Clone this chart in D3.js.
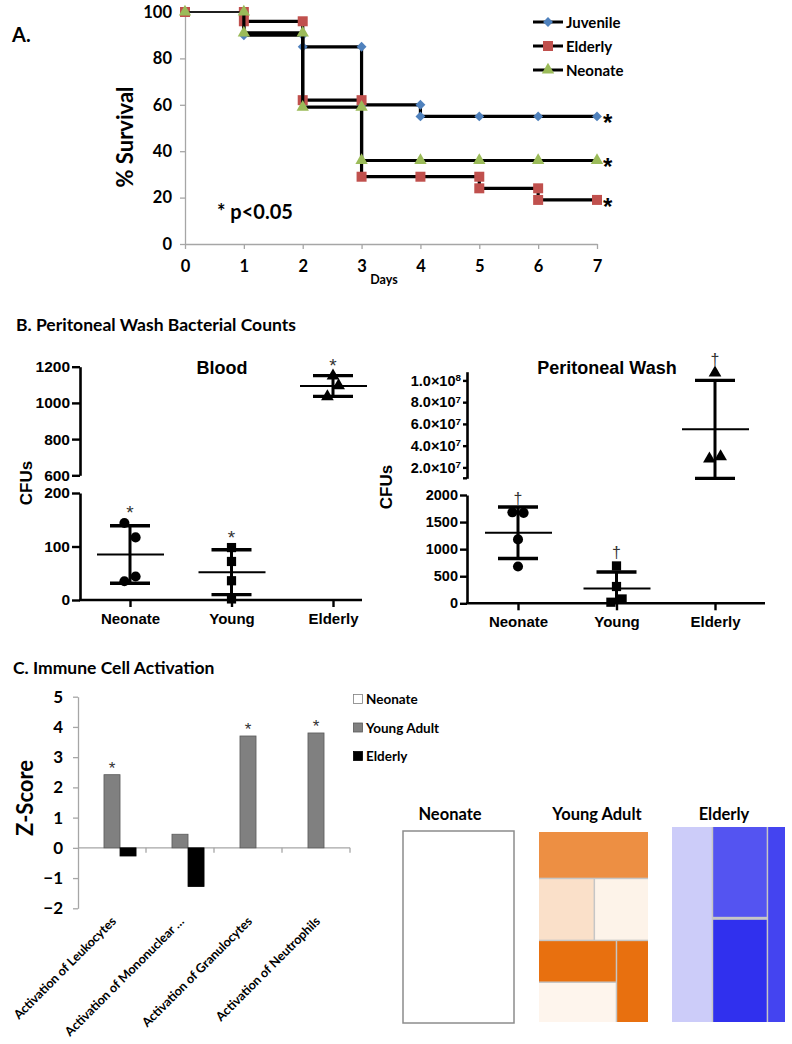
<!DOCTYPE html>
<html><head><meta charset="utf-8">
<script src="https://cdn.jsdelivr.net/npm/d3@7"></script>
<style>body{margin:0;background:#fff}svg{display:block}</style>
</head><body><svg id="c" width="792" height="1044"></svg>
<script>
// ---------- Panel A data ----------
const days = [0,1,2,3,4,5,6,7];
const survivalTicks = [0,20,40,60,80,100];
const survivalSeries = ["Juvenile","Elderly","Neonate"];
const juvenileSteps = [[0,100],[1,100],[1,90],[2,90],[2,85],[3,85],[3,60],[4,60],[4,55],[5,55],[6,55],[7,55]];
const elderlySteps  = [[0,100],[1,100],[1,96],[2,96],[2,62],[3,62],[3,29],[4,29],[5,29],[5,24],[6,24],[6,19],[7,19]];
const neonateSteps  = [[0,100],[1,100],[1,91],[2,91],[2,59],[3,59],[3,36],[4,36],[5,36],[6,36],[7,36]];

// ---------- Panel B data ----------
const groups = ["Neonate","Young","Elderly"];
const bloodNeonate = [144,117,35,44];
const bloodYoung   = [98,72,36,2];
const bloodElderly = [1150,1095,1035];
const bloodNeonateLane = [-1,1,-1,1];
const bloodYoungLane   = [0,0,0,0];
const bloodElderlyLane = [0,1,-1];
const bloodLowTicks  = [0,100,200];
const bloodHighTicks = [600,800,1000,1200];
const washNeonate = [1680,1670,1180,680];
const washYoung   = [690,310,80,20];
const washElderly = [1.07e8,2.8e7,3.0e7];
const washNeonateLane = [-1,1,0,0];
const washYoungLane   = [0,0,1,-1];
const washElderlyLane = [0,-1,1];
const washLowTicks  = [0,500,1000,1500,2000];
const washHighTicks = [2e7,4e7,6e7,8e7,1e8];

// ---------- Panel C data ----------
const activationCategories = ["Activation of Leukocytes","Activation of Mononuclear …","Activation of Granulocytes","Activation of Neutrophils"];
const cohortNames = ["Neonate","Young Adult","Elderly"];
const zNeonate = [0,0,0,0];
const zYoung   = [2.42,0.45,3.7,3.8];
const zElderly = [-0.27,-1.28,0,0];
const zTicks = [-2,-1,0,1,2,3,4,5];
const zSignificant = [true,false,true,true];

// treemap cells (id, parent, size, intensity)
const neonateCells = [{id:"root",parent:""},{id:"N1",parent:"root",size:1,z:0}];
const youngCells = [
  {id:"root",parent:""},
  {id:"A",parent:"root",size:51,z:0.77},
  {id:"B",parent:"root"},
  {id:"B1",parent:"B",size:34,z:0.18},
  {id:"B2",parent:"B",size:33,z:0.04},
  {id:"C",parent:"root"},
  {id:"C1",parent:"C"},
  {id:"C1a",parent:"C1",size:32,z:1.0},
  {id:"C1b",parent:"C1",size:31,z:0.02},
  {id:"C2",parent:"C",size:26,z:1.0}
];
const elderlyCells = [
  {id:"root",parent:""},
  {id:"E1",parent:"root",size:36,z:0.01},
  {id:"E2",parent:"root"},
  {id:"E2a",parent:"E2",size:22.5,z:0.76},
  {id:"E2b",parent:"E2",size:25.5,z:0.99},
  {id:"E3",parent:"root",size:16,z:0.86}
];

const svg = d3.select("#c");
const CAL = "Lato, 'Open Sans', sans-serif";
const ARI = "'Liberation Sans', Arial, sans-serif";
const intFmt = d3.format("d");

function txt(g, x, y, s, size, opts={}) {
  return g.append("text").attr("x",x).attr("y",y).text(s)
    .attr("font-family",opts.family||CAL).attr("font-size",size)
    .attr("font-weight",opts.weight||"bold").attr("fill",opts.fill||"#000")
    .attr("text-anchor",opts.anchor||"start");
}

// ================= Panel A =================
(function(){
  const g = svg.append("g");
  const x = d3.scaleLinear().domain([0,7]).range([185,597]);
  const y = d3.scaleLinear().domain([0,100]).range([244,12]);
  const ya = g.append("g").attr("transform","translate(185,0)")
    .call(d3.axisLeft(y).tickValues(survivalTicks).tickFormat(intFmt).tickSize(5).tickSizeOuter(0).tickPadding(8));
  const xa = g.append("g").attr("transform","translate(0,244)")
    .call(d3.axisBottom(x).tickValues(days).tickFormat(intFmt).tickSize(5).tickSizeOuter(0).tickPadding(11));
  [ya,xa].forEach(a=>{
    a.select(".domain").attr("stroke","#a6a6a6").attr("stroke-width",1.3);
    a.selectAll(".tick line").attr("stroke","#a6a6a6").attr("stroke-width",1.3);
    a.selectAll("text").attr("font-family",CAL).attr("font-weight","bold").attr("font-size",16.5).attr("fill","#000");
  });
  txt(g,12,42,"A.",20);
  txt(g,0,0,"% Survival",22,{anchor:"middle"}).attr("transform","translate(133,137) rotate(-90)");
  txt(g,384,284,"Days",12.5,{anchor:"middle"});
  txt(g,217,219,"* p<0.05",20);

  const steps = [juvenileSteps, elderlySteps, neonateSteps];
  const colors = ["#4F81BD","#C0504D","#9BBB59"];
  const symbols = [d3.symbolDiamond2, d3.symbolSquare, d3.symbolTriangle];
  const sizes = [62, 100, 66];
  const line = d3.line().x(d=>x(d[0])).y(d=>y(d[1]));
  steps.forEach((s,i)=>{
    g.append("path").attr("d",line(s.slice(0,2))).attr("fill","none").attr("stroke","#000").attr("stroke-width",1.2);
    g.append("path").attr("d",line(s.slice(1))).attr("fill","none").attr("stroke","#000").attr("stroke-width",3.2);
    g.selectAll(null).data(s).enter().append("path")
      .attr("d",d3.symbol().type(symbols[i]).size(sizes[i]))
      .attr("transform",d=>`translate(${x(d[0])},${y(d[1])})`)
      .attr("fill",colors[i]);
    const last = s[s.length-1];
    txt(g, x(last[0])+6, y(last[1])+15, "*", 24, {family:ARI});
  });
  // legend
  survivalSeries.forEach((n,i)=>{
    const ly = 22 + 24*i;
    g.append("line").attr("x1",533).attr("x2",563).attr("y1",ly).attr("y2",ly).attr("stroke","#000").attr("stroke-width",3);
    g.append("path").attr("d",d3.symbol().type(symbols[i]).size(sizes[i])).attr("transform",`translate(548,${ly})`).attr("fill",colors[i]);
    txt(g,566,ly+5.5,n,15);
  });
})();

// ================= Panel B =================
txt(svg,16,331,"B. Peritoneal Wash Bacterial Counts",17.5);

function dotPlot(o){
  const g = svg.append("g");
  const x = d3.scalePoint().domain(groups).range(o.xRange);
  const lo = d3.scaleLinear().domain(o.loDomain).range(o.loRange);
  const hi = d3.scaleLinear().domain(o.hiDomain).range(o.hiRange);
  const yOf = v => v > o.loDomain[1] ? hi(v) : lo(v);
  const fs = o.fontSize;
  const aLo = g.append("g").attr("transform",`translate(${o.axisX},0)`)
    .call(d3.axisLeft(lo).tickValues(o.loTicks).tickFormat(intFmt).tickSize(o.tick).tickSizeOuter(0).tickPadding(2));
  const aHi = g.append("g").attr("transform",`translate(${o.axisX},0)`)
    .call(d3.axisLeft(hi).tickValues(o.hiTicks).tickFormat(intFmt).tickSize(o.hiTick).tickSizeOuter(0).tickPadding(2));
  [aLo,aHi].forEach(a=>{
    a.select(".domain").attr("stroke","#000").attr("stroke-width",2.6);
    a.selectAll(".tick line").attr("stroke","#000").attr("stroke-width",2.4);
    a.selectAll("text").attr("font-family",ARI).attr("font-weight","bold").attr("font-size",fs).attr("fill","#000");
  });
  if (o.sci) {
    aHi.selectAll(".tick text").each(function(d){
      const e = Math.floor(Math.log10(d)), m = (d/Math.pow(10,e)).toFixed(1);
      const t = d3.select(this).text("");
      t.append("tspan").text(m+"×10");
      t.append("tspan").attr("dy","-0.45em").attr("font-size",fs*0.68).text(e);
    });
    g.append("line").attr("x1",o.axisX-4).attr("x2",o.axisX).attr("y1",o.hiRange[0]).attr("y2",o.hiRange[0]).attr("stroke","#000").attr("stroke-width",2.4);
  }
  // x axis
  g.append("line").attr("x1",o.axisX-1).attr("x2",o.xEnd).attr("y1",lo(0)).attr("y2",lo(0)).attr("stroke","#000").attr("stroke-width",2.6);
  const ax = g.append("g").attr("transform",`translate(0,${lo(0)})`).call(d3.axisBottom(x).tickSize(7).tickPadding(6));
  ax.select(".domain").remove();
  ax.selectAll(".tick line").attr("stroke","#000").attr("stroke-width",2.4);
  ax.selectAll("text").attr("font-family",ARI).attr("font-weight","bold").attr("font-size",15).attr("fill","#000");
  // title
  txt(g,o.titleX,o.titleY,o.title,18,{family:ARI,anchor:"middle"});
  txt(g,0,0,"CFUs",17,{family:ARI,anchor:"middle"}).attr("transform",`translate(${o.cfuX},${o.cfuY}) rotate(-90)`);
  // data
  o.sets.forEach((s,i)=>{
    const cx = x(groups[i]);
    const m = d3.mean(s.values), sd = d3.deviation(s.values);
    const top = m+sd, bot = m-sd;
    const yTop = yOf(top), yBot = bot < 0 ? lo(0) : yOf(bot);
    g.append("line").attr("x1",cx).attr("x2",cx).attr("y1",yTop).attr("y2",yBot).attr("stroke","#000").attr("stroke-width",3);
    g.append("line").attr("x1",cx-20).attr("x2",cx+20).attr("y1",yTop).attr("y2",yTop).attr("stroke","#000").attr("stroke-width",3.4);
    if (bot >= 0) g.append("line").attr("x1",cx-20).attr("x2",cx+20).attr("y1",yBot).attr("y2",yBot).attr("stroke","#000").attr("stroke-width",3.4);
    g.append("line").attr("x1",cx-33).attr("x2",cx+34).attr("y1",yOf(m)).attr("y2",yOf(m)).attr("stroke","#000").attr("stroke-width",2);
    g.selectAll(null).data(s.values).enter().append("path")
      .attr("d",d3.symbol().type(s.symbol).size(s.size))
      .attr("transform",(d,j)=>`translate(${cx + s.lane[j]*5.6},${yOf(d)})`)
      .attr("fill","#000");
    const yMin = Math.min(yTop, d3.min(s.values, yOf) - 5);
    txt(g,cx,yMin - o.markGap,o.mark,o.markSize,{family:ARI,weight:"normal",anchor:"middle",fill:"#333"});
  });
}

dotPlot({
  xRange:[130,333], axisX:80, xEnd:362, tick:8, hiTick:8, fontSize:15.5,
  loDomain:[0,200], loRange:[600,493], hiDomain:[600,1200], hiRange:[475.3,366.7],
  loTicks:bloodLowTicks, hiTicks:bloodHighTicks,
  title:"Blood", titleX:222, titleY:374, cfuX:32, cfuY:483, mark:"*", markGap:-1, markSize:19,
  sets:[
    {values:bloodNeonate, lane:bloodNeonateLane, symbol:d3.symbolCircle, size:80},
    {values:bloodYoung, lane:bloodYoungLane, symbol:d3.symbolSquare, size:85},
    {values:bloodElderly, lane:bloodElderlyLane, symbol:d3.symbolTriangle, size:70}
  ]
});
dotPlot({
  xRange:[518,715], axisX:467, xEnd:765, tick:7, hiTick:4, fontSize:14.5, sci:true,
  loDomain:[0,2000], loRange:[603.3,495], hiDomain:[1e7,1.08e8], hiRange:[478.3,371.7],
  loTicks:washLowTicks, hiTicks:washHighTicks,
  title:"Peritoneal Wash", titleX:607, titleY:374, cfuX:392, cfuY:487, mark:"†", markGap:3, markSize:16,
  sets:[
    {values:washNeonate, lane:washNeonateLane, symbol:d3.symbolCircle, size:80},
    {values:washYoung, lane:washYoungLane, symbol:d3.symbolSquare, size:85},
    {values:washElderly, lane:washElderlyLane, symbol:d3.symbolTriangle, size:70}
  ]
});

// ================= Panel C =================
(function(){
  const g = svg.append("g");
  txt(g,13,674,"C. Immune Cell Activation",17.5);
  const x0 = d3.scaleBand().domain(activationCategories).range([78,350]);
  const x1 = d3.scaleBand().domain(cohortNames).range([0,x0.bandwidth()]).paddingOuter(0.62);
  const y = d3.scaleLinear().domain([-2,5]).range([908.3,696.7]);
  const ya = g.append("g").attr("transform","translate(78,0)")
    .call(d3.axisLeft(y).tickValues(zTicks).tickFormat(intFmt).tickSize(5).tickSizeOuter(0).tickPadding(10));
  ya.select(".domain").attr("stroke","#a6a6a6").attr("stroke-width",1.3);
  ya.selectAll(".tick line").attr("stroke","#a6a6a6").attr("stroke-width",1.3);
  ya.selectAll("text").attr("font-family",CAL).attr("font-weight","bold").attr("font-size",17).attr("fill","#000");
  // zero line with category separators
  g.append("line").attr("x1",78).attr("x2",350).attr("y1",y(0)).attr("y2",y(0)).attr("stroke","#a6a6a6").attr("stroke-width",1.3);
  activationCategories.forEach(c=>{
    const bx = x0(c)+x0.bandwidth();
    g.append("line").attr("x1",bx).attr("x2",bx).attr("y1",y(0)).attr("y2",y(0)+5).attr("stroke","#a6a6a6").attr("stroke-width",1.3);
  });
  const series = [zNeonate, zYoung, zElderly];
  const fills = ["#ffffff","#808080","#000000"];
  const strokes = ["#7f7f7f","#595959","#000000"];
  series.forEach((vals,si)=>{
    vals.forEach((v,ci)=>{
      if (v === 0) return;
      const c = activationCategories[ci];
      g.append("rect").attr("x",x0(c)+x1(cohortNames[si])).attr("width",x1.bandwidth())
        .attr("y",Math.min(y(v),y(0))).attr("height",Math.abs(y(v)-y(0)))
        .attr("fill",fills[si]).attr("stroke",strokes[si]).attr("stroke-width",0.8);
    });
  });
  zYoung.forEach((v,ci)=>{
    if (!zSignificant[ci]) return;
    const c = activationCategories[ci];
    txt(g,x0(c)+x1("Young Adult")+x1.bandwidth()/2, y(v)-1,"*",17,{family:ARI,weight:"normal",anchor:"middle",fill:"#333"});
  });
  activationCategories.forEach(c=>{
    const cx = x0(c)+x0.bandwidth()/2;
    txt(g,0,0,c,12.6,{anchor:"end"}).attr("transform",`translate(${cx+5},${922}) rotate(-45)`);
  });
  txt(g,0,0,"Z-Score",22,{anchor:"middle"}).attr("transform","translate(33,798) rotate(-90)");
  // legend
  cohortNames.forEach((n,i)=>{
    const ly = 699 + 28.5*i;
    g.append("rect").attr("x",353.5).attr("y",ly-4.5).attr("width",9).attr("height",9)
      .attr("fill",fills[i]).attr("stroke",strokes[i]).attr("stroke-width",0.8);
    txt(g,366,ly+5,n,13.5);
  });

  // treemaps
  const orange = d3.scaleLinear().domain([0,1]).range(["#FEF8F2","#E8700F"]);
  const blue = d3.scaleLinear().domain([0,1]).range(["#CECEF9","#2E2EEE"]);
  const white = () => "#ffffff";
  const altSlice = (node,a,b,c,d)=> (node.depth%2===0 ? d3.treemapSlice : d3.treemapDice)(node,a,b,c,d);
  const maps = [
    {name:"Neonate", cells:neonateCells, box:[403,831,514,1023], tile:d3.treemapSlice, color:white, titleX:450},
    {name:"Young Adult", cells:youngCells, box:[539,832,648,1022], tile:altSlice, color:orange, titleX:597},
    {name:"Elderly", cells:elderlyCells, box:[672,827,785,1022], tile:d3.treemapSliceDice, color:blue, titleX:724}
  ];
  maps.forEach((mp,mi)=>{
    const [bx0,by0,bx1,by1] = mp.box;
    const root = d3.stratify().id(d=>d.id).parentId(d=>d.parent||null)(mp.cells).sum(d=>d.size||0);
    d3.treemap().tile(mp.tile).size([bx1-bx0,by1-by0])
      .paddingInner(n=> (mi===2 && n.depth===1) ? 3 : 1.5)(root);
    const tg = g.append("g").attr("transform",`translate(${bx0},${by0})`);
    if (mi>0) tg.append("rect").attr("width",bx1-bx0).attr("height",by1-by0).attr("fill","#c6c6c6");
    tg.selectAll(null).data(root.leaves()).enter().append("rect")
      .attr("x",d=>d.x0).attr("y",d=>d.y0).attr("width",d=>d.x1-d.x0).attr("height",d=>d.y1-d.y0)
      .attr("fill",d=>mp.color(d.data.z))
      .attr("stroke",mi===0?"#8c8c8c":"none").attr("stroke-width",1.5);
    txt(g,mp.titleX,820,mp.name,16.5,{anchor:"middle"});
  });
})();
</script></body></html>
